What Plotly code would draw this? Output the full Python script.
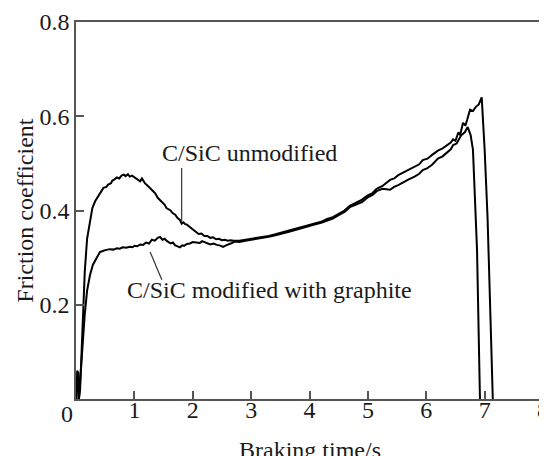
import plotly.graph_objects as go

# C/SiC unmodified
t_unmod = [0.01, 0.02, 0.04, 0.05, 0.07, 0.10, 0.12, 0.15, 0.19, 0.24, 0.28, 0.33,
           0.37, 0.40, 0.44, 0.47, 0.52, 0.55, 0.60, 0.62, 0.66, 0.70, 0.74, 0.78,
           0.82, 0.85, 0.89, 0.92, 0.96, 1.00, 1.05, 1.10, 1.13, 1.18, 1.25, 1.32,
           1.36, 1.40, 1.44, 1.48, 1.52, 1.55, 1.62, 1.66, 1.70, 1.74, 1.78, 1.81,
           1.84, 1.87, 1.90, 1.96, 2.02, 2.06, 2.10, 2.15, 2.20, 2.25, 2.30, 2.35,
           2.40, 2.45, 2.50, 2.55, 2.60, 2.65, 2.70, 2.80, 2.90, 3.00, 3.10, 3.20,
           3.30, 3.40, 3.55, 3.65, 3.80, 3.90, 4.00, 4.10, 4.20, 4.30, 4.40, 4.50,
           4.60, 4.69, 4.80, 4.90, 5.00, 5.08, 5.15, 5.25, 5.38, 5.45, 5.52, 5.60,
           5.70, 5.80, 5.88, 5.94, 6.02, 6.10, 6.20, 6.28, 6.35, 6.42, 6.46, 6.50,
           6.55, 6.58, 6.63, 6.67, 6.70, 6.75, 6.80, 6.85, 6.90, 6.95, 7.00, 7.05,
           7.10, 7.14]
f_unmod = [0.000, 0.060, 0.055, 0.000, 0.020, 0.120, 0.190, 0.270, 0.340, 0.380, 0.405, 0.420,
           0.428, 0.435, 0.441, 0.448, 0.450, 0.455, 0.458, 0.463, 0.466, 0.470, 0.468, 0.474,
           0.476, 0.473, 0.477, 0.472, 0.474, 0.470, 0.467, 0.462, 0.468, 0.458, 0.450, 0.440,
           0.436, 0.427, 0.422, 0.416, 0.412, 0.405, 0.400, 0.394, 0.391, 0.384, 0.380, 0.372,
           0.375, 0.371, 0.370, 0.364, 0.358, 0.356, 0.350, 0.351, 0.346, 0.346, 0.342, 0.343,
           0.339, 0.340, 0.337, 0.338, 0.336, 0.337, 0.336, 0.336, 0.338, 0.340, 0.341, 0.344,
           0.346, 0.349, 0.354, 0.357, 0.363, 0.366, 0.370, 0.373, 0.376, 0.382, 0.386, 0.393,
           0.400, 0.410, 0.416, 0.423, 0.432, 0.437, 0.446, 0.452, 0.465, 0.468, 0.475, 0.480,
           0.486, 0.492, 0.498, 0.507, 0.510, 0.518, 0.527, 0.532, 0.538, 0.544, 0.551, 0.548,
           0.566, 0.560, 0.586, 0.580, 0.592, 0.614, 0.611, 0.620, 0.625, 0.640, 0.530, 0.386,
           0.174, 0.000]

# C/SiC modified with graphite
t_mod = [0.05, 0.08, 0.11, 0.15, 0.19, 0.24, 0.29, 0.33, 0.37, 0.41, 0.46, 0.50,
         0.58, 0.64, 0.70, 0.75, 0.80, 0.86, 0.92, 0.97, 1.00, 1.05, 1.10, 1.15,
         1.20, 1.25, 1.30, 1.35, 1.40, 1.44, 1.48, 1.52, 1.55, 1.58, 1.62, 1.66,
         1.70, 1.74, 1.78, 1.82, 1.85, 1.90, 1.95, 2.00, 2.05, 2.12, 2.16, 2.20,
         2.25, 2.30, 2.36, 2.41, 2.46, 2.52, 2.57, 2.62, 2.67, 2.72, 2.80, 2.90,
         3.00, 3.10, 3.20, 3.30, 3.40, 3.55, 3.65, 3.80, 3.90, 4.00, 4.10, 4.20,
         4.30, 4.40, 4.50, 4.60, 4.69, 4.80, 4.90, 5.00, 5.08, 5.15, 5.25, 5.38,
         5.45, 5.52, 5.60, 5.70, 5.80, 5.88, 5.94, 6.02, 6.10, 6.20, 6.28, 6.35,
         6.42, 6.46, 6.52, 6.60, 6.66, 6.71, 6.76, 6.80, 6.87, 6.92]
f_mod = [0.000, 0.050, 0.120, 0.180, 0.230, 0.263, 0.285, 0.295, 0.305, 0.312, 0.314, 0.316,
         0.318, 0.317, 0.320, 0.319, 0.322, 0.321, 0.323, 0.322, 0.325, 0.324, 0.328, 0.327,
         0.332, 0.330, 0.338, 0.336, 0.342, 0.344, 0.338, 0.340, 0.336, 0.333, 0.330, 0.332,
         0.326, 0.324, 0.322, 0.326, 0.325, 0.329, 0.330, 0.333, 0.332, 0.331, 0.335, 0.333,
         0.330, 0.328, 0.330, 0.327, 0.326, 0.323, 0.326, 0.328, 0.331, 0.334, 0.333, 0.336,
         0.338, 0.339, 0.342, 0.344, 0.347, 0.351, 0.355, 0.360, 0.364, 0.367, 0.371, 0.374,
         0.379, 0.383, 0.390, 0.397, 0.407, 0.412, 0.418, 0.428, 0.433, 0.441, 0.446, 0.444,
         0.450, 0.454, 0.460, 0.466, 0.472, 0.478, 0.486, 0.490, 0.497, 0.510, 0.515, 0.522,
         0.530, 0.539, 0.542, 0.560, 0.566, 0.577, 0.560, 0.529, 0.316, 0.000]

x_ticks = [1, 2, 3, 4, 5, 6, 7, 8]
y_ticks = [0.2, 0.4, 0.6, 0.8]
y_tick_labels = ["0.2", "0.4", "0.6", "0.8"]

FONT = "Liberation Serif, Times New Roman, serif"
AXIS_COLOR = "#555555"
TEXT_COLOR = "#1a1a1a"
tfont = dict(family=FONT, size=24, color=TEXT_COLOR)

fig = go.Figure()
fig.add_trace(go.Scatter(x=t_unmod, y=f_unmod, mode="lines",
                         line=dict(color="black", width=2), name="C/SiC unmodified"))
fig.add_trace(go.Scatter(x=t_mod, y=f_mod, mode="lines",
                         line=dict(color="black", width=2), name="C/SiC modified with graphite"))

# label leaders
fig.add_shape(type="line", x0=1.81, y0=0.49, x1=1.81, y1=0.376,
              line=dict(color="#333333", width=1.2))
fig.add_shape(type="line", x0=1.27, y0=0.312, x1=1.47, y1=0.253,
              line=dict(color="#333333", width=1.2))

fig.add_annotation(x=2.98, y=0.522, text="C/SiC unmodified", showarrow=False, font=tfont)
fig.add_annotation(x=3.32, y=0.231, text="C/SiC modified with graphite", showarrow=False,
                   font=tfont)
# shared origin label
fig.add_annotation(x=0, y=0, text="0", showarrow=False, xanchor="right", yanchor="top",
                   xshift=-1, yshift=0, font=tfont)
# axis titles
fig.add_annotation(xref="paper", yref="paper", x=0.5, y=-0.135, text="Braking time/s",
                   showarrow=False, xanchor="center", yanchor="middle", font=tfont)
fig.add_annotation(xref="paper", yref="paper", x=-0.111, y=0.5, text="Friction coefficient",
                   showarrow=False, textangle=-90, xanchor="center", yanchor="middle",
                   font=tfont)

fig.update_xaxes(range=[0, 8], tickvals=x_ticks, ticks="inside", ticklen=8,
                 tickwidth=1.5, tickcolor=AXIS_COLOR, showline=True, linecolor=AXIS_COLOR,
                 linewidth=1.5, mirror=True, showgrid=False, zeroline=False, automargin=False,
                 ticklabelstandoff=-12, tickfont=tfont)
fig.update_yaxes(range=[0, 0.8], tickvals=y_ticks, ticktext=y_tick_labels, ticks="inside",
                 ticklen=8, tickwidth=1.5, tickcolor=AXIS_COLOR, showline=True,
                 linecolor=AXIS_COLOR, linewidth=1.5, mirror=True, showgrid=False,
                 zeroline=False, automargin=False, tickfont=tfont)

# page body keeps its default 8px margin, so the figure is offset by that much
fig.update_layout(width=547, height=456, margin=dict(l=68, r=12, t=14, b=65),
                  plot_bgcolor="white", paper_bgcolor="white", showlegend=False)

fig.write_html("out.html")
